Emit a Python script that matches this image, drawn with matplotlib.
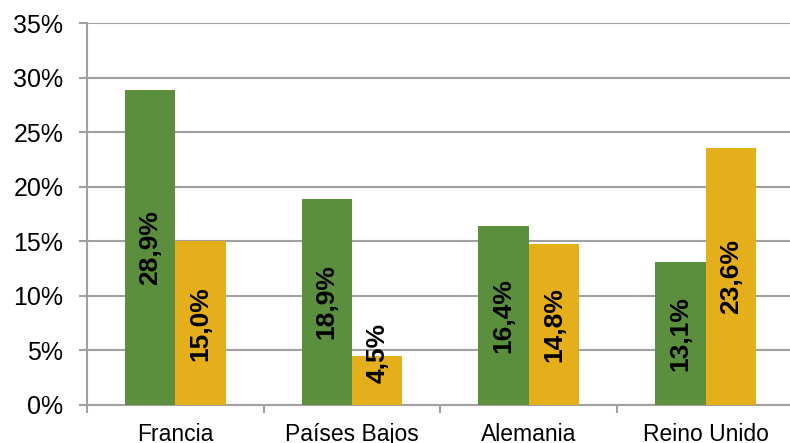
import matplotlib
matplotlib.use("Agg")
import matplotlib.pyplot as plt
import numpy as np

plt.rcParams['font.family'] = ['Liberation Sans', 'DejaVu Sans']

categories = ["Francia", "Países Bajos", "Alemania", "Reino Unido"]
serie_verde = [28.9, 18.9, 16.4, 13.1]
serie_amarilla = [15.0, 4.5, 14.8, 23.6]
yticks = [0, 5, 10, 15, 20, 25, 30, 35]

green = "#5B8F3D"
yellow = "#E5AE1B"
grid_c = "#A0A0A0"

fig = plt.figure(figsize=(7.90, 4.43), dpi=100)
ax = fig.add_axes([0.110, 0.0858, 0.895, 0.862])

x = np.arange(len(categories))
w = 0.285
ax.bar(x - w/2, serie_verde, w, color=green, zorder=3)
ax.bar(x + w/2, serie_amarilla, w, color=yellow, zorder=3)

def fmt(v):
    return f"{v:.1f}%".replace(".", ",")

for xs, vals in ((x - w/2, serie_verde), (x + w/2, serie_amarilla)):
    for xi, v in zip(xs, vals):
        if v >= 8:
            ax.text(xi, v/2, fmt(v), rotation=90, ha='center', va='center',
                    fontsize=19, fontweight='bold', zorder=4)
        else:
            ax.text(xi, 2.0, fmt(v), rotation=90, ha='center', va='bottom',
                    fontsize=19, fontweight='bold', zorder=4)

ax.set_ylim(0, 35)
ax.set_xlim(-0.5, len(categories) - 0.5)
ax.set_yticks(yticks)
ax.set_yticklabels([f"{t}%" for t in yticks], fontsize=18)
ax.yaxis.grid(True, color=grid_c, linewidth=1.5, zorder=0)
ax.set_axisbelow(True)

ax.set_xticks(x)
ax.set_xticklabels(categories, fontsize=16.5)
ax.set_xticks(np.arange(len(categories) + 1) - 0.5, minor=True)
ax.tick_params(axis='x', which='major', length=0, pad=13)
ax.tick_params(axis='x', which='minor', length=6, color=grid_c, width=1.5)
ax.tick_params(axis='y', length=6, color=grid_c, width=1.5, pad=11)

for s in ['top', 'right']:
    ax.spines[s].set_visible(False)
for s in ['left', 'bottom']:
    ax.spines[s].set_color(grid_c)
    ax.spines[s].set_linewidth(1.5)

fig.savefig("out.png", dpi=100)
